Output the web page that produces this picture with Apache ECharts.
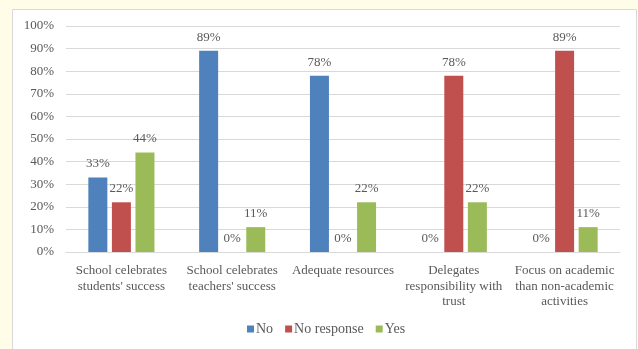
<!DOCTYPE html>
<html>
<head>
<meta charset="utf-8">
<script src="https://cdn.jsdelivr.net/npm/echarts@6/dist/echarts.min.js"></script>
<style>
  html, body { margin: 0; padding: 0; background: #fffde8; }
  #chart { width: 638px; height: 349px; }
</style>
</head>
<body>
<div id="chart"></div>
<script>
// Survey responses per statement, in percent
const categories = [
  "School celebrates\nstudents' success",
  "School celebrates\nteachers' success",
  "Adequate resources",
  "Delegates\nresponsibility with\ntrust",
  "Focus on academic\nthan non-academic\nactivities"
];
const noValues = [33, 89, 78, 0, 0];
const noResponseValues = [22, 0, 0, 78, 89];
const yesValues = [44, 11, 22, 22, 11];
const seriesNames = ["No", "No response", "Yes"];
const seriesColors = ["#4f81bd", "#c0504d", "#9bbb59"];

const FONT = "'Liberation Serif', 'DejaVu Serif', serif";
const chart = echarts.init(document.getElementById('chart'), null, { renderer: 'canvas' });

function barSeries(name, data, color) {
  return {
    name: name,
    type: 'bar',
    data: data,
    barWidth: 19,
    barGap: '24%',
    itemStyle: { color: color },
    label: {
      show: true,
      position: 'top',
      distance: 7,
      formatter: p => p.value + '%',
      color: '#595959',
      fontFamily: FONT,
      fontSize: 13
    }
  };
}

chart.setOption({
  backgroundColor: '#fffde8',
  animation: false,
  graphic: [{
    type: 'rect',
    z: -10,
    shape: { x: 12.5, y: 9.5, width: 624, height: 345 },
    style: { fill: '#ffffff', stroke: '#d9d9d9', lineWidth: 1 }
  }],
  grid: { left: 66, right: 18, top: 26, bottom: 97 },
  legend: {
    data: seriesNames,
    bottom: 8,
    left: 242,
    itemWidth: 7,
    itemHeight: 7,
    itemGap: 12,
    icon: 'rect',
    textStyle: { color: '#595959', fontFamily: FONT, fontSize: 14, padding: [0, 0, 0, -3] }
  },
  xAxis: {
    type: 'category',
    data: categories,
    axisTick: { show: false },
    axisLine: { lineStyle: { color: '#d9d9d9', width: 1 } },
    axisLabel: {
      interval: 0,
      margin: 11,
      color: '#595959',
      fontFamily: FONT,
      fontSize: 13,
      lineHeight: 15.5
    }
  },
  yAxis: {
    type: 'value',
    min: 0,
    max: 100,
    interval: 10,
    axisLine: { show: false },
    axisTick: { show: false },
    splitLine: { lineStyle: { color: '#d9d9d9', width: 1 } },
    axisLabel: {
      formatter: '{value}%',
      margin: 12,
      color: '#595959',
      fontFamily: FONT,
      fontSize: 13
    }
  },
  series: [
    barSeries(seriesNames[0], noValues, seriesColors[0]),
    barSeries(seriesNames[1], noResponseValues, seriesColors[1]),
    barSeries(seriesNames[2], yesValues, seriesColors[2])
  ]
});
</script>
</body>
</html>
